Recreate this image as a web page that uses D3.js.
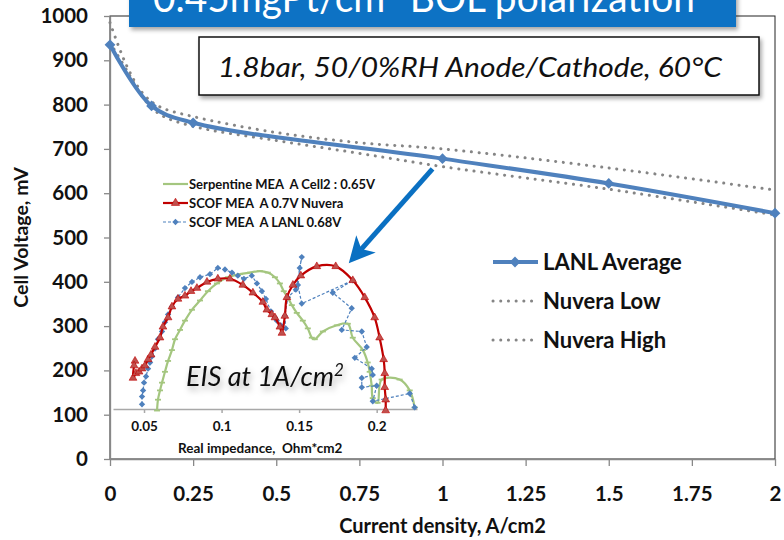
<!DOCTYPE html>
<html>
<head>
<meta charset="utf-8">
<script src="https://cdn.jsdelivr.net/npm/d3@7"></script>
<style>
  body { margin: 0; background: #fff; }
  svg { display: block; font-family: Lato, "Open Sans", sans-serif; }
</style>
</head>
<body>
<svg width="784" height="540"></svg>
<script>
// ---- polarization curve (main chart) ----
var currentDensity = [0, 0.125, 0.25, 1.0, 1.5, 2.0];
var lanlAverage    = [935, 797, 759, 678, 622, 555];
var nuveraDensity  = [0, 0.05, 0.1, 0.15, 0.25, 0.5, 0.75, 1.0, 1.5, 2.0];
var nuveraLow      = [940, 878, 815, 778, 751, 719, 690, 660, 609, 551];
var nuveraHigh     = [985, 888, 824, 795, 773, 737, 714, 700, 657, 607];
var xTicks = [0, 0.25, 0.5, 0.75, 1, 1.25, 1.5, 1.75, 2];
var yTicks = [0, 100, 200, 300, 400, 500, 600, 700, 800, 900, 1000];

// ---- EIS inset: [Z' ohm*cm2, -Z'' mohm*cm2] ----
var serpentine = [[0.0584,-1],[0.059,6],[0.0603,12],[0.0616,17],[0.0635,24],[0.0655,31],[0.068,38],
  [0.070,45],[0.0732,51],[0.0764,57],[0.0809,64],[0.0861,70],[0.0912,76],[0.097,81],[0.1041,85],
  [0.1118,87],[0.1183,88],[0.1247,89],[0.1298,88],[0.1344,85],[0.1376,81],[0.1401,76],[0.1427,72],
  [0.1453,67],[0.1485,62],[0.1524,57],[0.1556,52],[0.1582,46],[0.1601,45],[0.1653,50],[0.1743,54],
  [0.1814,55],[0.1846,46],[0.1911,38],[0.1942,30],[0.1955,24],[0.1968,15],[0.1975,7],[0.2006,4],
  [0.2032,19],[0.2148,19],[0.2213,12],[0.2245,1]];
var scofNuvera = [[0.0442,31],[0.0436,28],[0.0429,20],[0.0448,23],[0.0468,24],[0.0487,26],[0.0506,28],
  [0.0526,32],[0.0545,35],[0.0571,40],[0.0603,46],[0.0622,53],[0.0655,59],[0.068,66],[0.0719,71],
  [0.0764,73],[0.0803,76],[0.0841,78],[0.0906,82],[0.0976,84],[0.1054,84],[0.1137,80],[0.1202,75],
  [0.1266,69],[0.1292,64],[0.1324,61],[0.1344,59],[0.1376,53],[0.1389,49],[0.1408,60],[0.1421,72],
  [0.146,80],[0.1511,86],[0.1614,92],[0.1736,92],[0.1846,83],[0.1923,72],[0.1987,59],[0.2019,46],
  [0.2045,32],[0.2052,23],[0.2052,14],[0.2058,6],[0.2058,-1]];
var scofLanl = [[0.0487,3],[0.0487,8],[0.0494,12],[0.05,17],[0.0513,21],[0.0526,26],[0.0539,30],
  [0.0552,34],[0.0571,39],[0.059,45],[0.0616,50],[0.0635,56],[0.0655,61],[0.068,66],[0.0719,72],
  [0.0764,78],[0.0809,82],[0.0861,85],[0.0925,87],[0.0976,91],[0.1022,90],[0.1067,88],[0.1105,86],
  [0.1144,84],[0.1195,86],[0.1228,81],[0.126,76],[0.1286,71],[0.1318,63],[0.1344,59],[0.1356,57],
  [0.1382,54],[0.1414,52],[0.1408,60],[0.1427,72],[0.1479,77],[0.1517,98],[0.1504,91],[0.1492,80],
  [0.1517,68],[0.1846,83],[0.1717,75],[0.1839,65],[0.1775,51],[0.1904,50],[0.1936,40],[0.1859,33],
  [0.1968,26],[0.1975,22],[0.1904,20],[0.1904,14],[0.2,15],[0.1975,5],[0.2213,10],[0.2245,1]];
var eisTicks = [0.05, 0.1, 0.15, 0.2];

var svg = d3.select("svg");
var defs = svg.append("defs");
var shadow = defs.append("filter").attr("id", "shadow").attr("x", "-10%").attr("y", "-30%").attr("width", "120%").attr("height", "170%");
shadow.append("feDropShadow").attr("dx", 2).attr("dy", 3).attr("stdDeviation", 2).attr("flood-color", "#000").attr("flood-opacity", 0.35);
var softShadow = defs.append("filter").attr("id", "softShadow").attr("x", "-20%").attr("y", "-40%").attr("width", "140%").attr("height", "200%");
softShadow.append("feDropShadow").attr("dx", 2).attr("dy", 4).attr("stdDeviation", 3).attr("flood-color", "#000").attr("flood-opacity", 0.3);

var x = d3.scaleLinear().domain([0, 2]).range([110, 775]);
var y = d3.scaleLinear().domain([0, 1000]).range([459, 16]);

// plot frame
svg.append("rect").attr("x", x(0)).attr("y", y(1000))
  .attr("width", x(2) - x(0)).attr("height", y(0) - y(1000))
  .attr("fill", "none").attr("stroke", "#222").attr("stroke-width", 1);

var yAxis = svg.append("g").attr("transform", "translate(" + x(0) + ",0)")
  .call(d3.axisLeft(y).tickValues(yTicks).tickSize(6).tickSizeOuter(0).tickPadding(16)
    .tickFormat(d3.format("d")));
var xAxis = svg.append("g").attr("transform", "translate(0," + y(0) + ")")
  .call(d3.axisBottom(x).tickValues(xTicks).tickSize(7).tickSizeOuter(0).tickPadding(20)
    .tickFormat(function(d) { return String(d); }));
[yAxis, xAxis].forEach(function(g) {
  g.selectAll("path, line").attr("stroke", "#888").attr("stroke-width", 1.3);
  g.selectAll("text").attr("fill", "#111").attr("font-size", 20.5).attr("font-weight", 700)
    .attr("font-family", "Lato, sans-serif");
});

svg.append("text").attr("transform", "translate(28," + ((y(0) + y(1000)) / 2) + ") rotate(-90)")
  .attr("text-anchor", "middle").attr("font-size", 19.5).attr("font-weight", 700).attr("fill", "#111")
  .text("Cell Voltage, mV");
svg.append("text").attr("x", (x(0) + x(2)) / 2).attr("y", 533)
  .attr("text-anchor", "middle").attr("font-size", 20).attr("font-weight", 700).attr("fill", "#111")
  .text("Current density, A/cm2");

// ---- inset EIS ----
var xI = d3.scaleLinear().domain([0.03, 0.226]).range([113, 417]);
var yI = d3.scaleLinear().domain([0, 100]).range([409, 254]);

var eisAxis = svg.append("g").attr("transform", "translate(0," + yI(0) + ")")
  .call(d3.axisBottom(xI).tickValues(eisTicks).tickSize(4).tickSizeOuter(0).tickPadding(8)
    .tickFormat(function(d) { return String(d); }));
eisAxis.selectAll("path, line").attr("stroke", "#a8a8a8").attr("stroke-width", 1.5);
eisAxis.selectAll("text").attr("fill", "#111").attr("font-size", 13.5).attr("font-weight", 700)
  .attr("font-family", "Lato, sans-serif");
svg.append("text").attr("x", 178).attr("y", 453).attr("font-size", 13.5).attr("font-weight", 700)
  .attr("fill", "#111").attr("xml:space", "preserve").text("Real impedance,  Ohm*cm2");

var lineI = d3.line().x(function(d) { return xI(d[0]); }).y(function(d) { return yI(d[1]); });
var green = "#a4c67f", red = "#c00000", redFill = "#c0504d", blue = "#4f81bd";

svg.append("path").datum(serpentine).attr("d", lineI.curve(d3.curveCatmullRom.alpha(0.5)))
  .attr("fill", "none").attr("stroke", green).attr("stroke-width", 2.2);
svg.selectAll(".gm").data(serpentine).enter().append("line").attr("class", "gm")
  .attr("x1", function(d) { return xI(d[0]) - 3; }).attr("x2", function(d) { return xI(d[0]) + 3; })
  .attr("y1", function(d) { return yI(d[1]); }).attr("y2", function(d) { return yI(d[1]); })
  .attr("stroke", green).attr("stroke-width", 1.8);

svg.append("path").datum(scofLanl).attr("d", lineI.curve(d3.curveLinear))
  .attr("fill", "none").attr("stroke", blue).attr("stroke-width", 1.2).attr("stroke-dasharray", "3,2");
svg.selectAll(".bm").data(scofLanl).enter().append("path").attr("class", "bm")
  .attr("d", d3.symbol().type(d3.symbolSquare).size(20))
  .attr("transform", function(d) { return "translate(" + xI(d[0]) + "," + yI(d[1]) + ") rotate(45)"; })
  .attr("fill", blue);

svg.append("path").datum(scofNuvera).attr("d", lineI.curve(d3.curveCatmullRom.alpha(0.5)))
  .attr("fill", "none").attr("stroke", red).attr("stroke-width", 2.2);
svg.selectAll(".rm").data(scofNuvera).enter().append("path").attr("class", "rm")
  .attr("d", d3.symbol().type(d3.symbolTriangle).size(26))
  .attr("transform", function(d) { return "translate(" + xI(d[0]) + "," + yI(d[1]) + ")"; })
  .attr("fill", redFill).attr("stroke", red).attr("stroke-width", 0.6);

// inset legend
var insetLegend = [
  { name: "Serpentine MEA  A Cell2 : 0.65V", key: "g" },
  { name: "SCOF MEA  A 0.7V Nuvera", key: "r" },
  { name: "SCOF MEA  A LANL 0.68V", key: "b" }
];
var il = svg.selectAll(".il").data(insetLegend).enter().append("g").attr("class", "il")
  .attr("transform", function(d, i) { return "translate(163," + (184 + i * 19) + ")"; });
il.append("line").attr("x1", 0).attr("x2", 25)
  .attr("stroke", function(d) { return d.key === "g" ? green : d.key === "r" ? red : blue; })
  .attr("stroke-width", function(d) { return d.key === "b" ? 1.2 : 2.2; })
  .attr("stroke-dasharray", function(d) { return d.key === "b" ? "3,2" : null; });
il.filter(function(d) { return d.key === "r"; }).append("path")
  .attr("d", d3.symbol().type(d3.symbolTriangle).size(30)).attr("transform", "translate(12.5,0)")
  .attr("fill", redFill).attr("stroke", red).attr("stroke-width", 0.6);
il.filter(function(d) { return d.key === "b"; }).append("path")
  .attr("d", d3.symbol().type(d3.symbolSquare).size(20)).attr("transform", "translate(12.5,0) rotate(45)")
  .attr("fill", blue);
il.append("text").attr("x", 26).attr("y", 4.5).attr("font-size", 13).attr("font-weight", 700)
  .attr("fill", "#111").attr("xml:space", "preserve").text(function(d) { return d.name; });

svg.append("text").attr("x", 186).attr("y", 386).attr("font-size", 27).attr("font-style", "italic")
  .attr("fill", "#111").attr("filter", "url(#softShadow)")
  .html("EIS at 1A/cm<tspan font-size='17' dy='-10'>2</tspan>");

// ---- main series ----
var lanl = currentDensity.map(function(d, i) { return [d, lanlAverage[i]]; });
var low = nuveraDensity.map(function(d, i) { return [d, nuveraLow[i]]; });
var high = nuveraDensity.map(function(d, i) { return [d, nuveraHigh[i]]; });
var line = d3.line().x(function(d) { return x(d[0]); }).y(function(d) { return y(d[1]); })
  .curve(d3.curveCatmullRom.alpha(0.5));

[low, high].forEach(function(s) {
  svg.append("path").datum(s).attr("d", line).attr("fill", "none").attr("stroke", "#858585")
    .attr("stroke-width", 3).attr("stroke-linecap", "round").attr("stroke-dasharray", "0.1,7.6");
});
svg.append("path").datum(lanl).attr("d", line).attr("fill", "none").attr("stroke", blue).attr("stroke-width", 4);
svg.selectAll(".lm").data(lanl).enter().append("path").attr("class", "lm")
  .attr("d", d3.symbol().type(d3.symbolSquare).size(58))
  .attr("transform", function(d) { return "translate(" + x(d[0]) + "," + y(d[1]) + ") rotate(45)"; })
  .attr("fill", blue);

// main legend
var legendItems = ["LANL Average", "Nuvera Low", "Nuvera High"];
var lg = svg.selectAll(".lg").data(legendItems).enter().append("g").attr("class", "lg")
  .attr("transform", function(d, i) { return "translate(493," + (262 + i * 39) + ")"; });
lg.append("line").attr("x1", 0).attr("x2", function(d, i) { return i === 0 ? 45 : 42; })
  .attr("stroke", function(d, i) { return i === 0 ? blue : "#858585"; })
  .attr("stroke-width", function(d, i) { return i === 0 ? 4 : 3; })
  .attr("stroke-linecap", function(d, i) { return i === 0 ? "butt" : "round"; })
  .attr("stroke-dasharray", function(d, i) { return i === 0 ? null : "0.1,7.6"; });
lg.filter(function(d, i) { return i === 0; }).append("path")
  .attr("d", d3.symbol().type(d3.symbolSquare).size(58)).attr("transform", "translate(22,0) rotate(45)")
  .attr("fill", blue);
lg.append("text").attr("x", 50).attr("y", 8).attr("font-size", 22).attr("font-weight", 700)
  .attr("fill", "#111").text(function(d) { return d; });

// conditions box
svg.append("rect").attr("x", 199).attr("y", 37).attr("width", 560).attr("height", 58)
  .attr("fill", "#fff").attr("stroke", "#111").attr("stroke-width", 1.5).attr("filter", "url(#shadow)");
svg.append("text").attr("x", 218).attr("y", 77).attr("font-size", 27).attr("font-style", "italic")
  .attr("fill", "#111").attr("textLength", 504).attr("lengthAdjust", "spacingAndGlyphs")
  .text("1.8bar, 50/0%RH Anode/Cathode, 60\u00b0C");

// title banner (cut by the top edge)
svg.append("rect").attr("x", 129).attr("y", -20).attr("width", 607).attr("height", 47)
  .attr("fill", "#0b72c4").attr("filter", "url(#shadow)");
svg.append("text").attr("x", 153).attr("y", 12).attr("font-size", 40).attr("fill", "#fff")
  .attr("textLength", 542).attr("lengthAdjust", "spacingAndGlyphs")
  .html("0.45mgPt/cm<tspan font-size='26' dy='-16'>2</tspan><tspan dy='16'> BOL polarization</tspan>");

// arrow from the 1 A/cm2 point to the inset
var a0 = [x(0.97), y(655)], a1 = [xI(0.182), yI(94)];
var dx = a1[0] - a0[0], dy = a1[1] - a0[1], len = Math.sqrt(dx * dx + dy * dy);
var ux = dx / len, uy = dy / len, nx = -uy, ny = ux;
var hb = [a1[0] - 26 * ux, a1[1] - 26 * uy], notch = [a1[0] - 19 * ux, a1[1] - 19 * uy];
svg.append("line").attr("x1", a0[0]).attr("y1", a0[1]).attr("x2", notch[0]).attr("y2", notch[1])
  .attr("stroke", "#0a70c2").attr("stroke-width", 5);
svg.append("path").attr("fill", "#0a70c2").attr("d",
  "M" + a1 + "L" + [hb[0] + 13 * nx, hb[1] + 13 * ny] + "L" + notch + "L" + [hb[0] - 13 * nx, hb[1] - 13 * ny] + "Z");
</script>
</body>
</html>
